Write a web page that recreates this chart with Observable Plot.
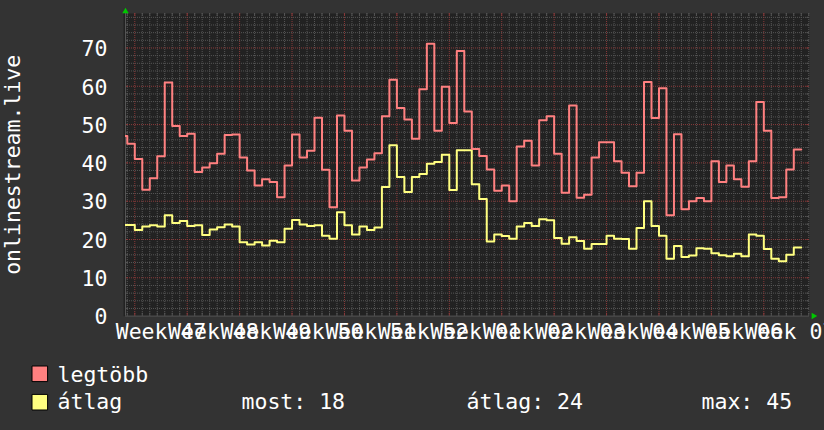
<!DOCTYPE html>
<html><head><meta charset="utf-8">
<script src="https://cdn.jsdelivr.net/npm/d3@7"></script>
<script src="https://cdn.jsdelivr.net/npm/@observablehq/plot@0.6"></script>
<style>
html,body{margin:0;padding:0;background:#333;overflow:hidden}
svg{display:block}
</style></head><body><div id="chart"></div>
<script>
// day index of first value (partial day at the left edge)
const firstDay = -1;
const legtobb = [47,45,41,33,36,41.7,61,49.6,47,47.6,37.6,38.8,39.9,42.4,47.3,47.4,41.4,38,34.1,35.7,35,31,39.3,
  47.4,41.4,43.2,51.8,38.2,28.4,52.4,48.4,35.4,38.8,40.9,42.5,52.2,61.7,54.3,51.3,46.3,59.2,71.1,48.4,59.9,50.4,69.2,
  53.4,43.6,41.8,38.3,32.7,34.1,30,44.3,45.8,39.3,51.1,52.2,42.4,32.2,55,30.9,31.7,41.4,45.4,45.4,40.4,37.4,33.9,
  37.4,61.1,51.7,59.5,26.3,47.5,27.9,30,30.8,30,40.4,35,39.3,35.7,33.8,40.4,55.9,48.4,30.8,31,38.3,43.5];
const atlag = [23.8,23.8,22.5,23.4,23.7,23.4,26.3,24.3,24.8,23.5,23.7,21.2,22.6,23.2,23.9,23.4,19.3,18.7,19.3,18.4,19.7,19.3,22.8,
  25.1,23.9,23.5,23.7,21.0,20.2,27.1,23.7,21.3,23.4,22.5,23.1,33.7,44.6,36.3,32.4,36.3,37.1,39.8,40.2,42.1,32.9,43.3,
  43.3,34.4,30.6,19.5,21.3,20.9,20.2,23.4,24.3,23.5,25.3,25.0,20.4,18.9,20.6,19.6,17.6,18.8,18.8,21.0,20.2,20.1,17.6,
  23.0,30.0,23.5,21.0,15.0,18.3,15.4,15.8,17.7,17.6,16.4,15.9,15.6,16.3,15.6,21.3,21.0,17.5,15.0,14.3,16.0,17.9];
const weekLabels = ["Week 47","Week 48","Week 49","Week 50","Week 51","Week 52","Week 01","Week 02","Week 03","Week 04","Week 05","Week 06","Week 07"];
const yTicks = [0,10,20,30,40,50,60,70];
const seriesNames = ["legtöbb","átlag"];
const seriesColors = ["#ff8080","#ffff80"];
const stats = ["most: 18","átlag: 24","max: 45"];
const yTitle = "onlinestream.live";

const xDomain = [-0.24, 91.1];
const yDomain = [0, 79];
const weekStart = 1;
const weekTicks = weekLabels.map((_, i) => weekStart + 7 * i).filter(t => t <= xDomain[1]);
const labelPos = weekLabels.map((_, i) => weekStart + 3.5 + 7 * i);
const dayTicks = d3.range(0, Math.floor(xDomain[1]) + 1).filter(t => (t - weekStart) % 7 !== 0);
const minorY = d3.range(2, yDomain[1], 2).filter(v => v % 10 !== 0);
const majorY = yTicks.filter(v => v > 0);

function toSteps(values) {
  const pts = values.map((v, i) => ({t: firstDay + i, v}));
  pts.push({t: firstDay + values.length, v: values[values.length - 1]});
  return pts;
}

const statDx = [116, 341, 576];
const font = "'DejaVu Sans Mono', monospace";
const minorColor = "#555", majorColor = "#8a3a3a";
const tickLenY = 0.75, tickLenX = 0.35;

const plot = Plot.plot({
  width: 824, height: 430,
  marginLeft: 125, marginRight: 15, marginTop: 13, marginBottom: 114.4,
  x: {domain: xDomain, axis: null},
  y: {domain: yDomain, axis: null},
  style: {background: "#333", fontFamily: font, fontSize: "21.5px", color: "#fff", overflow: "hidden"},
  marks: [
    Plot.frame({fill: "#222", stroke: null, insetLeft: -2}),
    Plot.ruleX(dayTicks, {stroke: minorColor, strokeDasharray: "1,1"}),
    Plot.ruleY(minorY, {stroke: minorColor, strokeDasharray: "1,1"}),
    Plot.ruleX(weekTicks, {stroke: majorColor, strokeDasharray: "1,1"}),
    Plot.ruleY(majorY, {stroke: majorColor, strokeDasharray: "1,1"}),
    // short solid tick marks at the frame edges
    Plot.ruleX(dayTicks, {y1: yDomain[1] - tickLenY, y2: yDomain[1], stroke: minorColor}),
    Plot.ruleX(weekTicks, {y1: yDomain[1] - tickLenY, y2: yDomain[1], stroke: majorColor}),
    Plot.ruleX(dayTicks, {y1: 0, y2: tickLenY, stroke: minorColor}),
    Plot.ruleX(weekTicks, {y1: 0, y2: tickLenY, stroke: majorColor}),
    Plot.ruleY(minorY, {x1: xDomain[0], x2: xDomain[0] + tickLenX, stroke: minorColor}),
    Plot.ruleY(majorY, {x1: xDomain[0], x2: xDomain[0] + tickLenX, stroke: majorColor}),
    Plot.ruleY(minorY, {x1: xDomain[1] - tickLenX, x2: xDomain[1], stroke: minorColor}),
    Plot.ruleY(majorY, {x1: xDomain[1] - tickLenX, x2: xDomain[1], stroke: majorColor}),
    Plot.ruleY([0], {stroke: "#555"}),
    Plot.ruleX([xDomain[0]], {stroke: "#555"}),
    Plot.line(toSteps(atlag), {x: "t", y: "v", curve: "step-after", stroke: seriesColors[1], strokeWidth: 2, clip: true}),
    Plot.line(toSteps(legtobb), {x: "t", y: "v", curve: "step-after", stroke: seriesColors[0], strokeWidth: 2, clip: true}),
    Plot.dot([0], {x: () => xDomain[0], y: () => yDomain[1], symbol: "triangle", r: 2.4, fill: "#00c800", dy: -2}),
    Plot.dot([0], {x: () => xDomain[1], y: () => yDomain[0], symbol: "triangle", r: 2.4, fill: "#00c800", dx: 4, rotate: 90}),
    Plot.text(yTicks, {y: d => d, text: d => String(d), frameAnchor: "left", textAnchor: "end", lineAnchor: "bottom", dx: -18, dy: 8.3, fill: "#fff"}),
    Plot.text(weekLabels, {x: (d, i) => labelPos[i], text: d => d, frameAnchor: "bottom", lineAnchor: "bottom", dy: 22.7, fill: "#fff"}),
    Plot.text([yTitle], {text: d => d, frameAnchor: "left", rotate: -90, textAnchor: "middle", lineAnchor: "bottom", dx: -105.5, fill: "#fff"}),
    ...seriesNames.flatMap((name, i) => [
      Plot.dot([name], {frameAnchor: "bottom-left", symbol: "square", r: 8.8, fill: seriesColors[i], stroke: "#000", strokeWidth: 1, dx: -85.7, dy: 57.7 + 28.4 * i}),
      Plot.text([name], {text: d => d, frameAnchor: "bottom-left", textAnchor: "start", lineAnchor: "bottom", dx: -68, dy: 65.4 + 27.5 * i, fill: "#fff"})
    ]),
    ...stats.map((s, i) => Plot.text([s], {text: d => d, frameAnchor: "bottom-left", textAnchor: "start", lineAnchor: "bottom", dx: statDx[i], dy: 92.9, fill: "#fff"}))
  ]
});
document.getElementById("chart").append(plot);
</script></body></html>
